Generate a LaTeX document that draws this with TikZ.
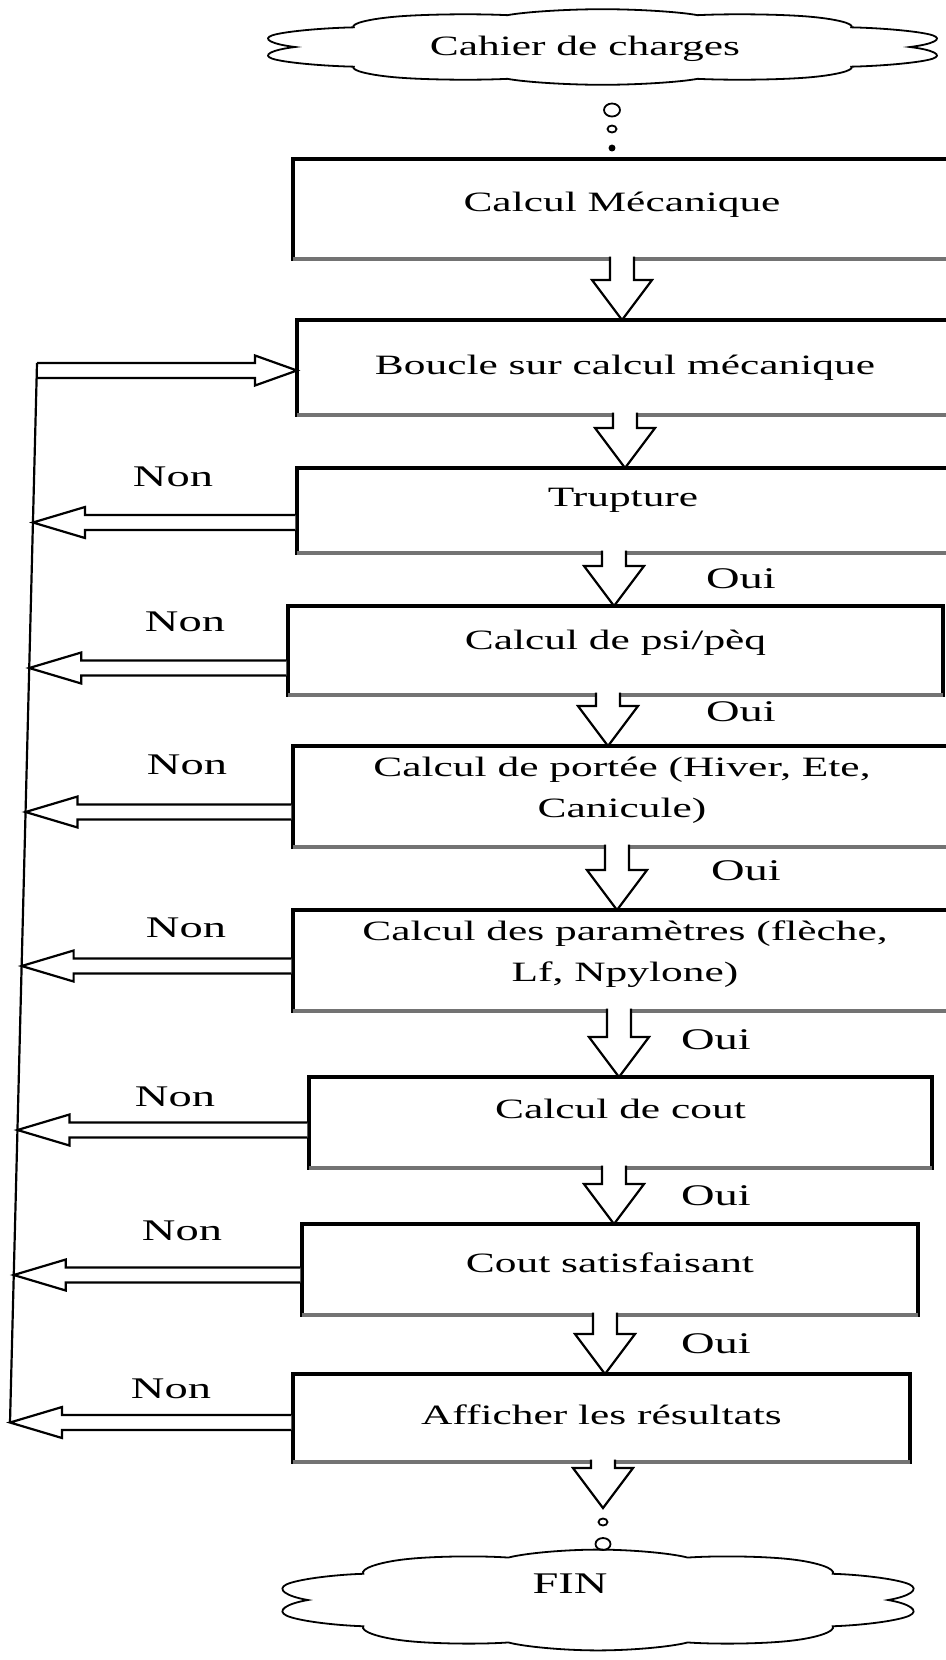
\documentclass[tikz,border=0pt]{standalone}
\usepackage{fontspec}
\setmainfont{Liberation Serif}[FakeStretch=1.55]
\usetikzlibrary{calc, positioning, shapes.symbols, shapes.geometric}

% hollow block arrow going straight down, tail on a box bottom
\newcommand{\downflow}[3][0pt]{%
  \draw[flow] let \p1=([xshift=#1]#2), \p2=(#3) in
    (\x1-6,\y1+1.2) -- (\x1-6,\y2+20) -- (\x1-15,\y2+20) -- (\x1,\y2)
    -- (\x1+15,\y2+20) -- (\x1+6,\y2+20) -- (\x1+6,\y1+1.2);}

% "Non" branch: hollow arrow from a box back onto the return line
\newcommand{\backflow}[2][0pt]{%
  \draw[flow] let \p1=([yshift=#1]#2.west), \p2=(rettop), \p3=(retbot),
      \n1={\x2+(\y1-\y2)*(\x3-\x2)/(\y3-\y2)} in
    (\x1-0.8,\y1+3.75) -- (\n1+26,\y1+3.75) -- (\n1+26,\y1+7.75) -- (\n1,\y1)
    -- (\n1+26,\y1-7.75) -- (\n1+26,\y1-3.75) -- (\x1-0.8,\y1-3.75);}

\begin{document}
\begin{tikzpicture}[
    x=1pt, y=1pt,
    box/.style={rectangle, draw=black, line width=1.6pt, outer sep=0pt,
                align=center, font=\fontsize{14}{20.5}\selectfont},
    lift/.style={text depth=#1},
    flow/.style={draw=black, line width=1.1pt, fill=white, line join=miter},
    lbl/.style={font=\fontsize{15}{18}\selectfont, inner sep=0pt},
    bubble/.style={ellipse, draw=black, line width=0.9pt, inner sep=0pt},
    thought/.style={cloud, cloud puffs=10, cloud puff arc=120, aspect=1, draw=black,
                    line width=0.9pt, inner sep=0pt, minimum size=28pt, transform shape},
]
\useasboundingbox (0,0) rectangle (473,-830);
\clip (0,0) rectangle (473,-830);

% start cloud
\node[thought, xscale=12.4, yscale=1.35] (cahier) at (301.25,-23.5) {};
\node[lbl, font=\fontsize{14}{17}\selectfont] (cahiertxt)
    at ([xshift=-8.75pt, yshift=-1pt]cahier.center) {Cahier de charges};
\node[bubble, minimum width=8pt, minimum height=6.5pt] (puff1) at (306,-55) {};
\node[bubble, minimum width=4.5pt, minimum height=3.5pt] (puff2) at (306,-64.5) {};
\node[bubble, minimum width=2.5pt, minimum height=2.5pt, fill=black] (puff3) at (306,-74) {};

% main column
\node[box, minimum width=329pt, minimum height=50pt, anchor=north west, lift=7pt]
    (meca) at (146.5,-79.5) {Calcul Mécanique};
\node[box, minimum width=328pt, minimum height=47.5pt,
      below right=30.5pt and 2pt of meca.south west] (boucle) {Boucle sur calcul mécanique};
\node[box, minimum width=326pt, minimum height=42.5pt, lift=13pt,
      below right=26.5pt and 0pt of boucle.south west] (rupt) {Trupture};
\node[box, minimum width=327.5pt, minimum height=44.5pt, lift=11pt,
      below right=26.5pt and -4.5pt of rupt.south west] (psi) {Calcul de psi/pèq};
\node[box, minimum width=329pt, minimum height=50.5pt, lift=9pt,
      below right=25.5pt and 2.5pt of psi.south west] (portee) {Calcul de portée (Hiver, Ete,\\ Canicule)};
\node[box, minimum width=332pt, minimum height=50.5pt, lift=9.5pt,
      below right=31.5pt and 0pt of portee.south west] (param) {Calcul des paramètres (flèche,\\ Lf, Npylone)};
\node[box, minimum width=311.5pt, minimum height=45.5pt, lift=14pt,
      below right=33pt and 8pt of param.south west] (cout) {Calcul de cout};
\node[box, minimum width=308pt, minimum height=45.5pt, lift=7pt,
      below right=28pt and -3.5pt of cout.south west] (satis) {Cout satisfaisant};
\node[box, minimum width=308.5pt, minimum height=44pt, lift=3pt,
      below right=29.5pt and -4.5pt of satis.south west] (affich) {Afficher les résultats};

% heavier grey bottom edges
\foreach \b in {meca, boucle, rupt, psi, portee, param, cout, satis, affich}
  \draw[black!55, line width=2.2pt] (\b.south west) -- (\b.south east);

% end cloud
\coordinate (fintip) at (301.5,-754);
\node[bubble, minimum width=4.5pt, minimum height=3.5pt] (puff4) at (301.5,-761) {};
\node[bubble, minimum width=7.5pt, minimum height=6pt] (puff5) at (301.5,-772) {};
\node[thought, xscale=11.7, yscale=1.8] (fin) at (299,-800) {};
\node[lbl] (fintxt) at ([xshift=-14pt, yshift=8pt]fin.center) {FIN};

% Oui path
\downflow{meca.south}{boucle.north}
\downflow{boucle.south}{rupt.north}
\downflow[-4.5pt]{rupt.south}{psi.north}
\downflow[-3.75pt]{psi.south}{portee.north}
\downflow[-2.5pt]{portee.south}{param.north}
\downflow[-3pt]{param.south}{cout.north}
\downflow[-3.25pt]{cout.south}{satis.north}
\downflow[-2.5pt]{satis.south}{affich.north}
\downflow[0.75pt]{affich.south}{fintip}

% Non path, back to the loop
\coordinate (rettop) at (18.5,-181.5);
\coordinate (retbot) at (5,-711.25);
\backflow[-6pt]{rupt}
\backflow[-8.75pt]{psi}
\backflow[-7.75pt]{portee}
\backflow[-2.75pt]{param}
\backflow[-3.75pt]{cout}
\backflow[-2.75pt]{satis}
\backflow[-2.25pt]{affich}
\draw[flow] let \p1=(rettop), \p2=([yshift=-1.5pt]boucle.west) in
    (\x1,\y2+3.75) -- (\x2-21,\y2+3.75) -- (\x2-21,\y2+7.5) -- (\x2,\y2)
    -- (\x2-21,\y2-7.5) -- (\x2-21,\y2-3.75) -- (\x1,\y2-3.75);
\draw[line width=1.1pt] (rettop) -- (retbot);

% labels
\node[lbl] (non1) at (86.5,-238.5) {Non};
\node[lbl] (non2) at (92.5,-311) {Non};
\node[lbl] (non3) at (93.5,-382.5) {Non};
\node[lbl] (non4) at (93,-464) {Non};
\node[lbl] (non5) at (87.5,-548.5) {Non};
\node[lbl] (non6) at (91,-615.5) {Non};
\node[lbl] (non7) at (85.5,-694.5) {Non};
\node[lbl] (oui1) at (370.5,-289.5) {Oui};
\node[lbl] (oui2) at (370.5,-356) {Oui};
\node[lbl] (oui3) at (373,-435.5) {Oui};
\node[lbl] (oui4) at (358,-520) {Oui};
\node[lbl] (oui5) at (358,-598) {Oui};
\node[lbl] (oui6) at (358,-672) {Oui};

\end{tikzpicture}
\end{document}
